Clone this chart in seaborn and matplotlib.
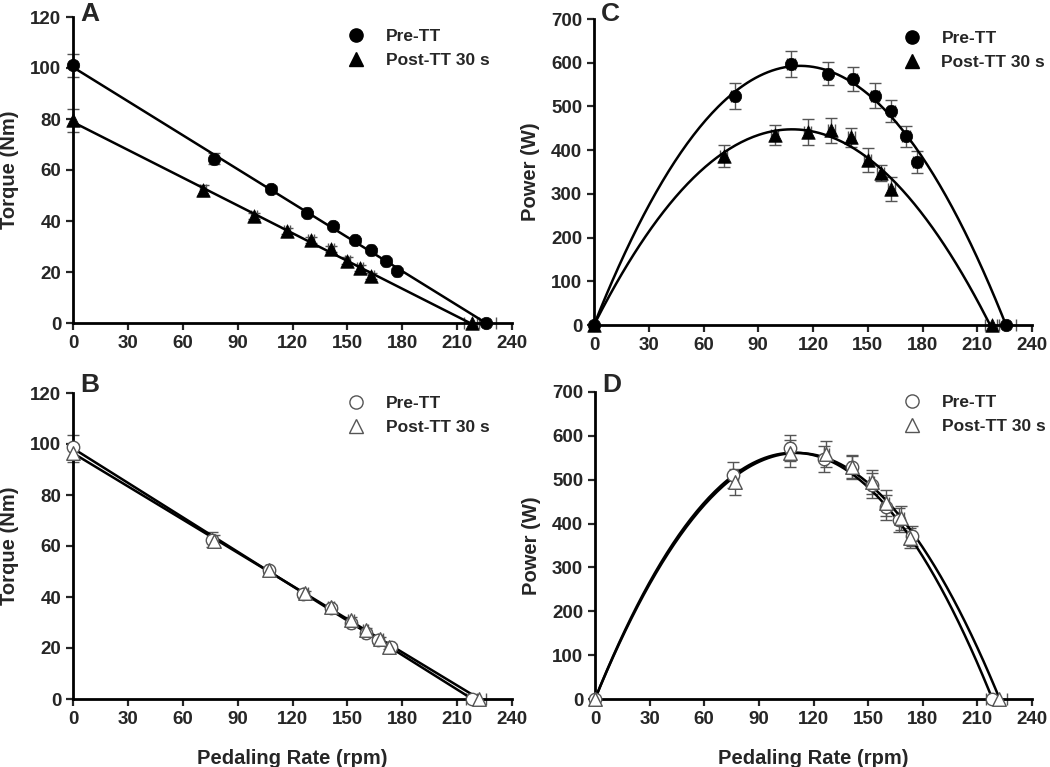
import numpy as np
import pandas as pd
import matplotlib
matplotlib.use("Agg")
import matplotlib.pyplot as plt
import seaborn as sns
from matplotlib.lines import Line2D

sns.set_style("ticks")
plt.rcParams['font.family'] = ['Liberation Sans', 'DejaVu Sans']
plt.rcParams['font.weight'] = 'bold'

# ---------------- data ----------------
# Panel A: torque, filled markers
A_pre_rpm = [0, 77, 108, 128, 142, 154, 163, 171, 177, 226]
A_pre_torque = [101, 64.5, 52.5, 43, 38, 32.5, 28.5, 24.5, 20.5, 0]
A_pre_terr = [4.5, 2.2, 1.2, 1.0, 1.0, 1.0, 1.0, 1.0, 1.0, 0]
A_pre_xerr = [0, 1.5, 1.5, 1.5, 1.5, 1.5, 1.5, 1.5, 1.5, 5]

A_post_rpm = [0, 71, 99, 117, 130, 141, 150, 157, 163, 218]
A_post_torque = [79.5, 52, 42, 36, 32.5, 29, 24.5, 21.5, 18.5, 0]
A_post_terr = [4.5, 2.0, 1.2, 1.2, 1.2, 1.2, 1.2, 1.2, 1.2, 0]
A_post_xerr = [0, 1.5, 1.5, 1.5, 1.5, 1.5, 1.5, 1.5, 1.5, 4]

# Panel C: power, filled markers
C_pre_power = [0, 523, 597, 575, 563, 525, 490, 432, 373, 0]
C_pre_perr = [0, 30, 29, 26, 27, 29, 25, 24, 25, 0]
C_pre_xerr = [0, 2, 2, 2, 2, 2, 2, 2, 2, 5]
C_post_power = [0, 387, 435, 441, 445, 429, 378, 348, 311, 0]
C_post_perr = [0, 25, 23, 30, 28, 22, 28, 18, 28, 0]
C_post_xerr = [0, 2, 2, 2, 2, 2, 2, 2, 2, 4]

# Panel B: torque, open markers
B_pre_rpm = [0, 76, 107, 126, 141, 152, 160, 167, 174, 218]
B_pre_torque = [99, 62.5, 50.5, 41, 35.5, 30, 26, 23, 20.5, 0]
B_pre_terr = [4.5, 3.0, 1.0, 1.0, 1.0, 1.0, 1.0, 1.0, 1.0, 0]
B_pre_xerr = [0, 1.5, 1.5, 1.5, 1.5, 1.5, 1.5, 1.5, 1.5, 3]

B_post_rpm = [0, 77, 107, 127, 141, 152, 160, 168, 173, 222]
B_post_torque = [96.5, 62, 50.5, 41.5, 36, 31, 27, 23.5, 20.5, 0]
B_post_terr = [3.5, 2.5, 1.0, 1.0, 1.0, 1.0, 1.0, 1.0, 1.0, 0]
B_post_xerr = [0, 1.5, 1.5, 1.5, 1.5, 1.5, 1.5, 1.5, 1.5, 4]

# Panel D: power, open markers
D_pre_power = [0, 510, 572, 548, 528, 487, 437, 408, 372, 0]
D_pre_perr = [0, 30, 30, 30, 26, 29, 28, 28, 22, 0]
D_post_power = [0, 495, 560, 558, 530, 495, 447, 413, 367, 0]
D_post_perr = [0, 30, 30, 30, 26, 28, 30, 28, 22, 0]

labels = ["Pre-TT", "Post-TT 30 s"]
xticks = list(range(0, 241, 30))
torque_ticks = list(range(0, 121, 20))
power_ticks = list(range(0, 701, 100))

ERR_COLOR = "#555555"
RAD = 2 * np.pi / 60


def torque_fit(rpm, torque):
    b, a = np.polyfit(np.asarray(rpm, float), np.asarray(torque, float), 1)
    return a, b


def style_axis(ax, yticks, ylabel, xlabel):
    ax.set_xlim(0, 240)
    ax.set_ylim(yticks[0], yticks[-1])
    ax.set_xticks(xticks)
    ax.set_yticks(yticks)
    ax.tick_params(axis='both', direction='out', length=5, width=1.6,
                   labelsize=13.5, pad=3.5)
    for lab in ax.get_xticklabels() + ax.get_yticklabels():
        lab.set_fontweight('bold')
    for s in ['left', 'bottom']:
        ax.spines[s].set_linewidth(2.0)
        ax.spines[s].set_color('black')
    sns.despine(ax=ax)
    ax.set_ylabel(ylabel, fontsize=14.5, fontweight='bold')
    ax.yaxis.set_label_coords(-0.123, 0.5)
    if xlabel:
        ax.set_xlabel(xlabel, fontsize=14.5, fontweight='bold', labelpad=15)
    else:
        ax.set_xlabel("")


def draw_series(ax, rpm, y, yerr, xerr, marker, filled, fitline):
    ax.errorbar(rpm, y, yerr=yerr, xerr=xerr, fmt='none', ecolor=ERR_COLOR,
                elinewidth=1.0, capsize=4, capthick=1.0, zorder=2, clip_on=False)
    xs, ys = fitline
    sns.lineplot(x=xs, y=ys, ax=ax, color='black', linewidth=1.8,
                 zorder=3, legend=False, sort=False)
    df = pd.DataFrame({'rpm': rpm, 'y': y})
    size = 80 if marker == 'o' else 95
    if filled:
        sns.scatterplot(data=df, x='rpm', y='y', ax=ax, marker=marker,
                        s=size, color='black', edgecolor='black',
                        linewidth=0.5, zorder=4, legend=False, clip_on=False)
    else:
        sns.scatterplot(data=df, x='rpm', y='y', ax=ax, marker=marker,
                        s=size, facecolor='white', edgecolor='#555555',
                        linewidth=1.0, zorder=4, legend=False, clip_on=False)


def add_legend(ax, filled, bx, by):
    if filled:
        h = [Line2D([], [], linestyle='none', marker='o', markersize=9.5,
                    color='black'),
             Line2D([], [], linestyle='none', marker='^', markersize=10,
                    color='black')]
    else:
        h = [Line2D([], [], linestyle='none', marker='o', markersize=9.5,
                    markerfacecolor='white', markeredgecolor='#555555'),
             Line2D([], [], linestyle='none', marker='^', markersize=10,
                    markerfacecolor='white', markeredgecolor='#555555')]
    leg = ax.legend(h, labels, loc='upper left', bbox_to_anchor=(bx, by),
                    frameon=False, handlelength=1.0, handletextpad=1.2,
                    borderpad=0, borderaxespad=0, labelspacing=0.5,
                    prop={'size': 12.5, 'weight': 'bold'})
    return leg


fig = plt.figure(figsize=(10.5, 7.67), dpi=100)
W, H = 1050, 767


def axes_px(l, t, r, b):
    return fig.add_axes([l / W, 1 - b / H, (r - l) / W, (b - t) / H])


axA = axes_px(73, 17, 512, 323)
axC = axes_px(594, 19, 1032, 325)
axB = axes_px(73, 393, 512, 699)
axD = axes_px(595, 392, 1032, 699)


def make_fits(rpm, torque):
    a, b = torque_fit(rpm, torque)
    vmax = -a / b
    xs = np.linspace(0, vmax, 200)
    return (xs, a + b * xs), (xs, (a + b * xs) * xs * RAD)


fA_pre, fC_pre = make_fits(A_pre_rpm, A_pre_torque)
fA_post, fC_post = make_fits(A_post_rpm, A_post_torque)
fB_pre, fD_pre = make_fits(B_pre_rpm, B_pre_torque)
fB_post, fD_post = make_fits(B_post_rpm, B_post_torque)

# Panel A
draw_series(axA, A_pre_rpm, A_pre_torque, A_pre_terr, A_pre_xerr, 'o', True, fA_pre)
draw_series(axA, A_post_rpm, A_post_torque, A_post_terr, A_post_xerr, '^', True, fA_post)
style_axis(axA, torque_ticks, "Torque (Nm)", None)
add_legend(axA, True, 0.625, 0.962)

# Panel C
draw_series(axC, A_pre_rpm, C_pre_power, C_pre_perr, C_pre_xerr, 'o', True, fC_pre)
draw_series(axC, A_post_rpm, C_post_power, C_post_perr, C_post_xerr, '^', True, fC_post)
style_axis(axC, power_ticks, "Power (W)", None)
add_legend(axC, True, 0.706, 0.962)

# Panel B
draw_series(axB, B_pre_rpm, B_pre_torque, B_pre_terr, B_pre_xerr, 'o', False, fB_pre)
draw_series(axB, B_post_rpm, B_post_torque, B_post_terr, B_post_xerr, '^', False, fB_post)
style_axis(axB, torque_ticks, "Torque (Nm)", "Pedaling Rate (rpm)")
add_legend(axB, False, 0.625, 0.99)

# Panel D
draw_series(axD, B_pre_rpm, D_pre_power, D_pre_perr, B_pre_xerr, 'o', False, fD_pre)
draw_series(axD, B_post_rpm, D_post_power, D_post_perr, B_post_xerr, '^', False, fD_post)
style_axis(axD, power_ticks, "Power (W)", "Pedaling Rate (rpm)")
add_legend(axD, False, 0.706, 0.99)

# panel letters (baseline positions in pixels)
for ax, letter, base_px in [(axA, 'A', 21), (axC, 'C', 21),
                            (axB, 'B', 392), (axD, 'D', 392)]:
    x0 = ax.get_position().x0 + 7 / W
    fig.text(x0, 1 - base_px / H, letter, fontsize=19, fontweight='bold',
             va='baseline', ha='left')

fig.savefig("out.png", dpi=100)
